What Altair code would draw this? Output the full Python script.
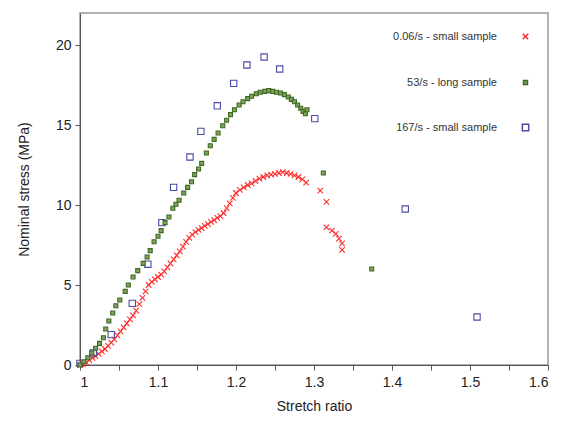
import altair as alt
import pandas as pd

series_names = ["0.06/s - small sample", "53/s - long sample", "167/s - small sample"]

red_x = [1.000, 1.004, 1.008, 1.012, 1.016, 1.020, 1.024, 1.028, 1.032, 1.036, 1.040, 1.044, 1.048,
         1.052, 1.056, 1.060, 1.064, 1.068, 1.072, 1.076, 1.080, 1.084, 1.088, 1.092, 1.096, 1.100,
         1.104, 1.108, 1.112, 1.116, 1.120, 1.124, 1.128, 1.132, 1.136, 1.140, 1.144, 1.148, 1.152,
         1.156, 1.160, 1.164, 1.168, 1.172, 1.176, 1.180, 1.184, 1.188, 1.192, 1.196, 1.200, 1.205,
         1.210, 1.215, 1.220, 1.225, 1.230, 1.235, 1.240, 1.245, 1.250, 1.255, 1.260, 1.265, 1.270,
         1.275, 1.280, 1.285, 1.290, 1.308, 1.316, 1.316, 1.323, 1.328, 1.332, 1.336, 1.336]
red_y = [0.0, 0.05, 0.15, 0.3, 0.45, 0.55, 0.7, 0.85, 1.0, 1.2, 1.4, 1.6, 1.85,
         2.1, 2.35, 2.6, 2.85, 3.1, 3.4, 3.8, 4.2, 4.6, 5.0, 5.2, 5.35, 5.5,
         5.65, 5.85, 6.1, 6.35, 6.6, 6.85, 7.1, 7.4, 7.7, 7.95, 8.15, 8.3, 8.45,
         8.55, 8.7, 8.8, 8.95, 9.05, 9.2, 9.3, 9.5, 9.8, 10.1, 10.45, 10.75, 10.95,
         11.1, 11.25, 11.35, 11.5, 11.65, 11.75, 11.85, 11.9, 11.95, 12.0, 12.05, 12.0, 11.95,
         11.85, 11.75, 11.6, 11.4, 10.9, 10.2, 8.6, 8.4, 8.2, 7.9, 7.6, 7.2]

green_x = [1.000, 1.005, 1.010, 1.015, 1.020, 1.025, 1.030, 1.033, 1.037, 1.042, 1.046, 1.051,
           1.058, 1.062, 1.068, 1.074, 1.081, 1.086, 1.090, 1.095, 1.100, 1.104, 1.109, 1.114,
           1.119, 1.123, 1.127, 1.133, 1.138, 1.143, 1.147, 1.152, 1.156, 1.162, 1.167, 1.172,
           1.177, 1.183, 1.188, 1.193, 1.198, 1.204, 1.209, 1.215, 1.220, 1.226, 1.231, 1.237,
           1.242, 1.247, 1.252, 1.257, 1.262, 1.267, 1.271, 1.275, 1.279, 1.283, 1.286, 1.289,
           1.291, 1.312, 1.374]
green_y = [0.0, 0.2, 0.45, 0.75, 1.05, 1.35, 1.7, 2.25, 2.75, 3.25, 3.7, 4.06,
           4.6, 5.0, 5.5, 5.9, 6.35, 6.75, 7.15, 7.7, 8.05, 8.4, 8.9, 9.25,
           9.8, 10.05, 10.3, 10.75, 11.1, 11.45, 11.9, 12.25, 12.6, 13.25, 13.7, 14.1,
           14.5, 14.95, 15.3, 15.65, 15.95, 16.25, 16.45, 16.65, 16.8, 16.95, 17.05, 17.1,
           17.15, 17.1, 17.05, 17.0, 16.9, 16.75, 16.6, 16.45, 16.25, 16.05, 15.85, 15.7,
           15.95, 12.0, 6.0]

blue_x = [1.000, 1.017, 1.040, 1.067, 1.087, 1.105, 1.120, 1.141, 1.155, 1.176, 1.197, 1.214,
          1.236, 1.256, 1.301, 1.417, 1.509]
blue_y = [0.1, 0.75, 1.9, 3.85, 6.3, 8.9, 11.1, 13.0, 14.6, 16.2, 17.6, 18.75,
          19.25, 18.5, 15.4, 9.75, 3.0]

x_ticks = [1.0, 1.05, 1.1, 1.15, 1.2, 1.25, 1.3, 1.35, 1.4, 1.45, 1.5, 1.55, 1.6]
y_ticks = [0, 5, 10, 15, 20]

rows = []
for name, xs, ys in [(series_names[0], red_x, red_y),
                     (series_names[1], green_x, green_y),
                     (series_names[2], blue_x, blue_y)]:
    for a, b in zip(xs, ys):
        rows.append({"series": name, "stretch": a, "stress": b})
df = pd.DataFrame(rows)

xpath = "M-1,-1L1,1M-1,1L1,-1"

legend = alt.Legend(
    title=None,
    orient="none",
    legendX=440,
    legendY=18,
    labelAlign="right",
    labelOffset={"expr": "-34"},
    labelFontSize=11,
    labelFont="Liberation Sans",
    labelColor="#333333",
    rowPadding=33,
    labelLimit=300,
)

chart = alt.Chart(df).mark_point(strokeWidth=1.1, opacity=1).encode(
    x=alt.X("stretch:Q",
            scale=alt.Scale(domain=[1, 1.6], nice=False, zero=False),
            axis=alt.Axis(values=x_ticks, title="Stretch ratio", grid=False,
                          labelExpr="round(datum.value*100) % 10 == 0 ? format(datum.value, '.1~f') : ''")),
    y=alt.Y("stress:Q",
            scale=alt.Scale(domain=[0, 22], nice=False),
            axis=alt.Axis(values=y_ticks, title="Nominal stress (MPa)", grid=False)),
    stroke=alt.Stroke("series:N", scale=alt.Scale(domain=series_names,
                                                  range=["#ff2b2b", "#3f6a22", "#4a4aa8"]),
                      legend=legend),
    fill=alt.Fill("series:N", scale=alt.Scale(domain=series_names,
                                              range=["transparent", "#7fa35e", "transparent"]),
                  legend=legend),
    shape=alt.Shape("series:N", scale=alt.Scale(domain=series_names,
                                                range=[xpath, "square", "square"]),
                    legend=legend),
    size=alt.Size("series:N", scale=alt.Scale(type="ordinal", domain=series_names,
                                              range=[30, 16, 40]),
                  legend=legend),
    order=alt.Order("series:N"),
).properties(
    width=468,
    height=352,
    background="white",
    autosize=alt.AutoSizeParams(type="none"),
    padding={"left": 72, "top": 5, "right": 10, "bottom": 60},
).configure_view(
    stroke="#999999",
    strokeWidth=1.5,
).configure_axis(
    grid=False,
    labelFont="Liberation Sans",
    titleFont="Liberation Sans",
    labelFontSize=14,
    titleFontSize=14,
    titleFontWeight="normal",
    labelColor="#222222",
    titleColor="#222222",
    domainColor="#555555",
    tickColor="#555555",
    tickSize=5,
).configure_axisY(
    labelPadding=4,
    titlePadding=24,
).configure_axisX(
    labelPadding=5,
    titlePadding=10,
)

chart.save("out.html", embed_options={"renderer": "svg", "actions": False})
